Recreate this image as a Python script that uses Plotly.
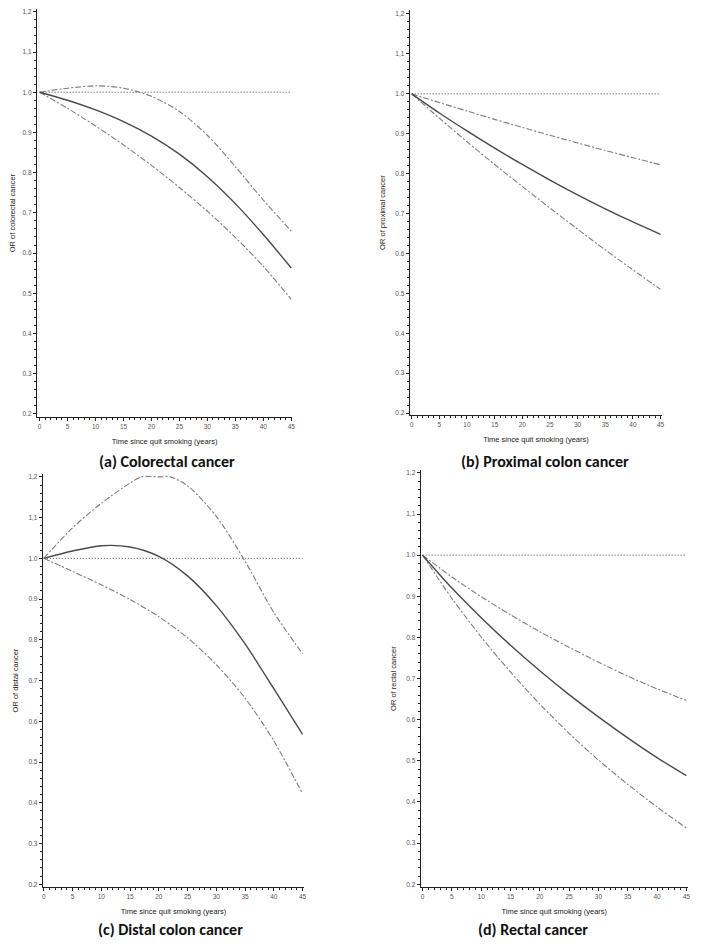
import plotly.graph_objects as go

# page is rendered with an 8px body margin; figure fills the rest
OFF = 8
W, H = 701 - OFF, 947 - OFF

# ---------------- data ----------------
years = [0, 5, 10, 15, 20, 25, 30, 35, 40, 45]

colorectal_or = [1.000, 0.980, 0.956, 0.927, 0.891, 0.846, 0.790, 0.723, 0.646, 0.563]
colorectal_upper = [1.000, 1.010, 1.016, 1.010, 0.990, 0.952, 0.893, 0.815, 0.732, 0.655]
colorectal_lower = [1.000, 0.960, 0.916, 0.869, 0.818, 0.763, 0.704, 0.639, 0.567, 0.485]

proximal_or = [1.000, 0.952, 0.907, 0.864, 0.823, 0.784, 0.747, 0.712, 0.679, 0.648]
proximal_upper = [1.000, 0.978, 0.957, 0.936, 0.916, 0.896, 0.877, 0.858, 0.840, 0.822]
proximal_lower = [1.000, 0.939, 0.880, 0.823, 0.768, 0.714, 0.661, 0.609, 0.559, 0.510]

distal_or = [1.000, 1.018, 1.031, 1.028, 1.005, 0.957, 0.884, 0.790, 0.680, 0.568]
distal_upper_years = [0, 5, 10, 15, 17, 20, 22, 25, 30, 35, 40, 45]
distal_upper = [1.000, 1.075, 1.135, 1.185, 1.200, 1.200, 1.200, 1.178, 1.103, 0.993, 0.867, 0.766]
distal_lower = [1.000, 0.968, 0.935, 0.899, 0.857, 0.805, 0.739, 0.657, 0.552, 0.422]

rectal_or = [1.000, 0.920, 0.848, 0.781, 0.719, 0.661, 0.607, 0.556, 0.508, 0.464]
rectal_upper = [1.000, 0.947, 0.899, 0.855, 0.814, 0.776, 0.740, 0.706, 0.675, 0.647]
rectal_lower = [1.000, 0.895, 0.801, 0.716, 0.638, 0.567, 0.502, 0.443, 0.388, 0.337]

ref_years = [0, 45]
ref_or = [1.0, 1.0]

x_ticks = [0, 5, 10, 15, 20, 25, 30, 35, 40, 45]
y_ticks = [0.2, 0.3, 0.4, 0.5, 0.6, 0.7, 0.8, 0.9, 1.0, 1.1, 1.2]
y_tick_labels = ["0.2", "0.3", "0.4", "0.5", "0.6", "0.7", "0.8", "0.9", "1.0", "1,1", "1,2"]

x_title = "Time since quit smoking (years)"
y_titles = ["OR of colorectal cancer", "OR of proximal cancer",
            "OR of distal cancer", "OR of rectal cancer"]
captions = ["(a) Colorectal cancer", "(b) Proximal colon cancer",
            "(c) Distal colon cancer", "(d) Rectal cancer"]

panels = [
    (years, colorectal_or, years, colorectal_upper, colorectal_lower),
    (years, proximal_or, years, proximal_upper, proximal_lower),
    (years, distal_or, distal_upper_years, distal_upper, distal_lower),
    (years, rectal_or, years, rectal_upper, rectal_lower),
]

# ---------------- layout geometry (page pixels) ----------------
geo = [
    dict(l=36, r=293, t=8, b=417, xr=[-0.5, 45.2], yr=[0.192, 1.207]),
    dict(l=411, r=665, t=9, b=415, xr=[-0.36, 45.3], yr=[0.195, 1.210]),
    dict(l=42, r=305, t=474, b=888, xr=[-0.17, 45.3], yr=[0.193, 1.207]),
    dict(l=422, r=691, t=470, b=888, xr=[-0.34, 45.3], yr=[0.193, 1.207]),
]
caption_pos = [(167, 461), (547, 461), (170, 930), (535, 930)]


def px_x(p):
    return (p - OFF) / W


def px_y(p):
    return 1 - (p - OFF) / H


fig = go.Figure()

solid_col = "#4a4a4a"
ci_col = "#7d7d7d"
axis_col = "#222222"
tick_font = dict(family="Liberation Sans, Arial", size=6.5, color="#555555")
title_font = dict(family="Liberation Sans, Arial", size=7.5, color="#222222")

for i, (xs, orv, xu, up, lo) in enumerate(panels):
    xa = "x" if i == 0 else f"x{i+1}"
    ya = "y" if i == 0 else f"y{i+1}"
    fig.add_trace(go.Scatter(x=ref_years, y=ref_or, mode="lines", xaxis=xa, yaxis=ya,
                             line=dict(color="#444444", width=1, dash="1px,2px"),
                             showlegend=False, hoverinfo="skip"))
    fig.add_trace(go.Scatter(x=xu, y=up, mode="lines", xaxis=xa, yaxis=ya,
                             line=dict(color=ci_col, width=1.1, dash="6px,2px,2px,2px",
                                       shape="spline", smoothing=0.8),
                             showlegend=False))
    fig.add_trace(go.Scatter(x=xs, y=lo, mode="lines", xaxis=xa, yaxis=ya,
                             line=dict(color=ci_col, width=1.1, dash="6px,2px,2px,2px",
                                       shape="spline", smoothing=0.8),
                             showlegend=False))
    fig.add_trace(go.Scatter(x=xs, y=orv, mode="lines", xaxis=xa, yaxis=ya,
                             line=dict(color=solid_col, width=1.4, shape="spline", smoothing=0.8),
                             showlegend=False))

layout = dict(width=W, height=H, margin=dict(l=0, r=0, t=0, b=0),
              paper_bgcolor="white", plot_bgcolor="white", showlegend=False)

for i, g in enumerate(geo):
    xk = "xaxis" if i == 0 else f"xaxis{i+1}"
    yk = "yaxis" if i == 0 else f"yaxis{i+1}"
    ya = "y" if i == 0 else f"y{i+1}"
    xa = "x" if i == 0 else f"x{i+1}"
    layout[xk] = dict(
        domain=[px_x(g["l"]), px_x(g["r"])], anchor=ya, range=g["xr"],
        tickmode="array", tickvals=x_ticks, ticks="outside", ticklen=3, tickwidth=1,
        tickcolor=axis_col, showline=True, linecolor=axis_col, linewidth=1,
        showgrid=False, zeroline=False, tickfont=tick_font,
        minor=dict(tickmode="linear", tick0=0, dtick=1, ticks="outside", ticklen=2,
                   tickcolor=axis_col, showgrid=False),
        title=dict(text=x_title, font=title_font, standoff=9),
    )
    layout[yk] = dict(
        domain=[px_y(g["b"]), px_y(g["t"])], anchor=xa, range=g["yr"],
        tickmode="array", tickvals=y_ticks, ticktext=y_tick_labels,
        ticks="outside", ticklen=3, tickwidth=1, tickcolor=axis_col,
        showline=True, linecolor=axis_col, linewidth=1,
        showgrid=False, zeroline=False, tickfont=tick_font,
        minor=dict(tickmode="linear", tick0=0.2, dtick=0.02, ticks="outside", ticklen=2,
                   tickcolor=axis_col, showgrid=False),
        title=dict(text=y_titles[i], font=title_font, standoff=8),
    )

fig.update_layout(**layout)

for (cx, cy), txt in zip(caption_pos, captions):
    fig.add_annotation(x=px_x(cx), y=px_y(cy), xref="paper", yref="paper",
                       text=txt, showarrow=False, xanchor="center", yanchor="middle",
                       font=dict(family="Carlito, Lato, Open Sans", size=16, color="#111111",
                                 weight=600))

fig.write_html("out.html")
